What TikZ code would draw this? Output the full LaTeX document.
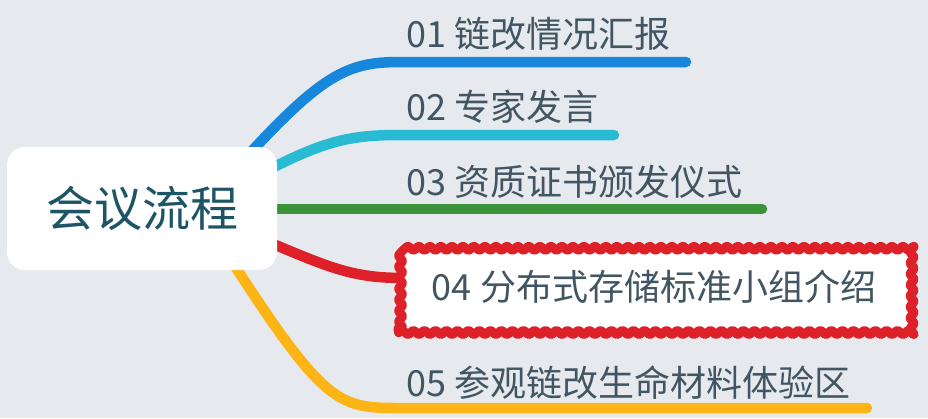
\documentclass[tikz,border=0pt]{standalone}
\usepackage{fontspec}
\setmainfont{Noto Sans CJK SC}
\usetikzlibrary{decorations.pathmorphing}
\definecolor{bg}{RGB}{230,234,238}
\definecolor{blueb}{RGB}{23,135,220}
\definecolor{cyanb}{RGB}{40,187,211}
\definecolor{greenb}{RGB}{58,147,56}
\definecolor{redb}{RGB}{222,33,41}
\definecolor{yellowb}{RGB}{253,181,21}
\definecolor{lblgray}{RGB}{66,85,99}
\definecolor{roottxt}{RGB}{29,84,102}
\tikzset{
  branch/.style={line width=10.5pt, line cap=round},
  lbl/.style={anchor=base west, inner sep=0pt, text=lblgray, font=\fontsize{36}{36}\selectfont},
}
\begin{document}
\begin{tikzpicture}[x=1pt, y=-1pt]
\useasboundingbox[fill=bg] (0,0) rectangle (928,418);
% branch ends
\coordinate (s1) at (230,175);
\coordinate (e1) at (686,62);
\coordinate (s2) at (245,182);
\coordinate (e2) at (614,135);
\coordinate (s3) at (240,209);
\coordinate (e3) at (762,209);
\coordinate (s4) at (245,232);
\coordinate (e4) at (405,278);
\coordinate (s5) at (215,235);
\coordinate (e5) at (867,408);
% branches
\draw[branch, blueb] (s1) .. controls (320,75) and (345,62) .. (400,62) -- (e1);
\draw[branch, cyanb] (s2) .. controls (320,142) and (345,135) .. (400,135) -- (e2);
\draw[branch, greenb] (s3) -- (e3);
\draw[branch, redb] (s4) .. controls (330,268) and (350,278) .. (e4);
\draw[branch, yellowb] (s5) .. controls (320,400) and (335,408) .. (395,408) -- (e5);
% root
\node[fill=white, rounded corners=18pt, minimum width=270pt, minimum height=123pt,
  text=roottxt, font=\fontsize{48}{48}\selectfont] (root) at (142,208.5) {会议流程};
% labels
\node[lbl] (t1) at (406,47) {01 链改情况汇报};
\node[lbl] (t2) at (406,120) {02 专家发言};
\node[lbl] (t3) at (406,195) {03 资质证书颁发仪式};
\node[fill=white, draw=redb, line width=9pt, line join=round, minimum width=510pt, minimum height=92pt,
  decorate, decoration={snake, segment length=11pt, amplitude=1.9pt},
  text=lblgray, font=\fontsize{36}{36}\selectfont] (t4) at (654,286.5) {04 分布式存储标准小组介绍};
\node[lbl] (t5) at (406,396) {05 参观链改生命材料体验区};
\end{tikzpicture}
\end{document}
